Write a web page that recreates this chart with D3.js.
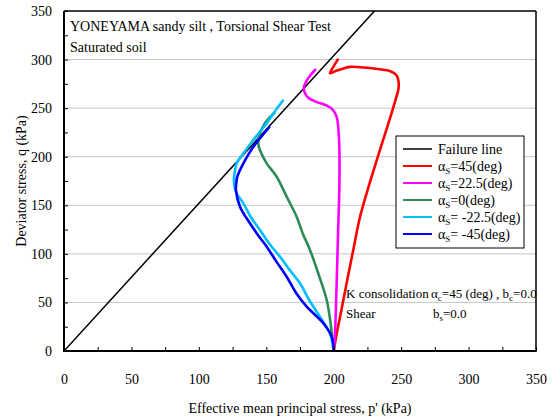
<!DOCTYPE html>
<html>
<head>
<meta charset="utf-8">
<script src="https://cdn.jsdelivr.net/npm/d3@7"></script>
<style>
  html, body { margin: 0; padding: 0; background: #fff; }
  svg, svg text { font-family: "Liberation Serif", "Times New Roman", serif; }
</style>
</head>
<body>
<svg id="chart" width="557" height="419"></svg>
<script>
// Stress paths p' (kPa) / q (kPa) for each shear direction
const seriesNames = ["45", "22.5", "0", "-22.5", "-45"];
const seriesColors = ["#ff0000", "#ff00ff", "#2e8b57", "#00bfff", "#0000ff"];

const pathA45 = [[200,0],[202.5,20],[204.7,35],[209.6,70],[214.5,104],[219.5,138],[226.5,172],[234.3,207],[240.5,234],[245.5,257],[248,270],[248,278],[246.5,284],[242,288],[236.8,289.5],[225,291.5],[212,292.5],[205.5,290],[201,288],[197.2,286],[199.5,292],[203,300]];
const pathA22 = [[200,0],[201,20],[202.2,70],[203.2,120],[204.2,170],[204.2,207],[203.5,228],[202.2,241],[199.5,248],[195,252.5],[187,256.5],[181,261],[178.5,266],[178,272],[179.5,277],[181.2,281],[184,286],[186.3,289.5]];
const pathA0 = [[200,0],[199,12],[197.7,28.5],[194.8,52.5],[189,78],[182.4,104],[177,121],[172.5,138.3],[165.1,158.9],[157.7,179.4],[150.3,193.2],[145.3,206.9],[144,214],[144.5,220],[145.3,224],[149,234.4],[152.8,241],[156,245]];
const pathAm22 = [[200,0],[197.2,18],[189.8,35.3],[182,52],[175,69.7],[167,84],[160.2,97],[152,111],[145.3,124.6],[138.5,138],[133,152],[128,162.3],[126.1,172],[126.1,179.4],[127,187],[128,193.2],[133,203.4],[140.4,217.2],[150.3,234.4],[156,246],[162.2,257.7]];
const pathAm45 = [[200,0],[198.5,14.8],[192.3,28.5],[180,45.6],[172,60],[165.1,76.5],[157.5,92],[150.3,107.4],[143.5,120],[137.9,131.5],[130.5,148.6],[127.5,165.7],[127.8,173],[128.5,179.4],[133,193.2],[140.4,210.3],[146,220],[152.2,230.3]];
const stressPaths = [pathA45, pathA22, pathA0, pathAm22, pathAm45];

// Failure line q = M p'
const failureSlope = 1.52;
const failureP = [0, 350 / failureSlope];

const xTicks = [0, 25, 50, 75, 100, 125, 150, 175, 200, 225, 250, 275, 300, 325, 350];
const yTicks = [0, 25, 50, 75, 100, 125, 150, 175, 200, 225, 250, 275, 300, 325, 350];
const gridValues = [50, 100, 150, 200, 250, 300];

const svg = d3.select("#chart");
const L = 64, T = 11, W = 472, H = 340;
const x = d3.scaleLinear().domain([0, 350]).range([L, L + W]);
const y = d3.scaleLinear().domain([0, 350]).range([T + H, T]);

// horizontal grid
svg.append("g").selectAll("line").data(gridValues).join("line")
  .attr("x1", L).attr("x2", L + W)
  .attr("y1", d => y(d)).attr("y2", d => y(d))
  .attr("stroke", "#c6c6c6").attr("stroke-width", 1);

const defs = svg.append("defs");
defs.append("clipPath").attr("id", "plot-clip")
  .append("rect").attr("x", L).attr("y", T).attr("width", W).attr("height", H);

const plot = svg.append("g").attr("clip-path", "url(#plot-clip)");

// failure line
plot.append("line")
  .attr("x1", x(failureP[0])).attr("y1", y(0))
  .attr("x2", x(failureP[1])).attr("y2", y(failureP[1] * failureSlope))
  .attr("stroke", "#000").attr("stroke-width", 1.5);

const line = d3.line().x(d => x(d[0])).y(d => y(d[1])).curve(d3.curveCatmullRom.alpha(0.5));
stressPaths.forEach((pts, i) => {
  plot.append("path").attr("d", line(pts))
    .attr("fill", "none").attr("stroke", seriesColors[i])
    .attr("stroke-width", 2.6).attr("stroke-linejoin", "round").attr("stroke-linecap", "round");
});

// axes with inward ticks
const xAxis = d3.axisBottom(x).tickValues(xTicks).tickSize(-4).tickPadding(23)
  .tickFormat(d => d % 50 === 0 ? d : "");
const gx = svg.append("g").attr("transform", `translate(0,${T + H})`).call(xAxis);
const yAxis = d3.axisLeft(y).tickValues(yTicks).tickSize(-4).tickPadding(12)
  .tickFormat(d => d % 50 === 0 ? d : "");
const gy = svg.append("g").attr("transform", `translate(${L},0)`).call(yAxis);
[gx, gy].forEach(g => {
  g.attr("font-family", null);
  g.select(".domain").remove();
  g.selectAll(".tick line").attr("stroke", "#000").attr("stroke-width", 1);
  g.selectAll(".tick text").attr("font-size", 14).attr("fill", "#000");
});

// frame
svg.append("line").attr("x1", L).attr("x2", L + W).attr("y1", T).attr("y2", T).attr("stroke", "#000").attr("stroke-width", 1.5);
svg.append("line").attr("x1", L + W).attr("x2", L + W).attr("y1", T).attr("y2", T + H).attr("stroke", "#000").attr("stroke-width", 1.5);
svg.append("line").attr("x1", L).attr("x2", L).attr("y1", T).attr("y2", T + H + 1).attr("stroke", "#000").attr("stroke-width", 2);
svg.append("line").attr("x1", L - 1).attr("x2", L + W + 0.75).attr("y1", T + H).attr("y2", T + H).attr("stroke", "#000").attr("stroke-width", 2);

// axis titles
svg.append("text").attr("x", L + W / 2).attr("y", 413).attr("text-anchor", "middle")
  .attr("font-size", 14).text("Effective mean principal stress, p' (kPa)");
svg.append("text").attr("transform", `translate(26,${T + H / 2}) rotate(-90)`)
  .attr("text-anchor", "middle").attr("font-size", 14).text("Deviator stress, q (kPa)");

// title block
svg.append("text").attr("x", 70).attr("y", 31).attr("font-size", 14)
  .text("YONEYAMA sandy silt , Torsional Shear Test");
svg.append("text").attr("x", 70).attr("y", 52).attr("font-size", 14).text("Saturated soil");

// test conditions
svg.append("text").attr("x", 346).attr("y", 298).attr("font-size", 13).text("K consolidation");
const c1b = svg.append("text").attr("x", 431).attr("y", 298).attr("font-size", 13);
c1b.append("tspan").text("α");
c1b.append("tspan").attr("font-size", 9).attr("dy", 3).text("c");
c1b.append("tspan").attr("dy", -3).text("=45 (deg) , b");
c1b.append("tspan").attr("font-size", 9).attr("dy", 3).text("c");
c1b.append("tspan").attr("dy", -3).text("=0.0");
svg.append("text").attr("x", 346).attr("y", 318).attr("font-size", 13).text("Shear");
const c2b = svg.append("text").attr("x", 433).attr("y", 318).attr("font-size", 13);
c2b.append("tspan").text("b");
c2b.append("tspan").attr("font-size", 9).attr("dy", 3).text("s");
c2b.append("tspan").attr("dy", -3).text("=0.0");

// legend
const lg = svg.append("g");
lg.append("rect").attr("x", 396).attr("y", 136).attr("width", 128).attr("height", 112)
  .attr("fill", "#fff").attr("stroke", "#000").attr("stroke-width", 1);
const legendRows = [{label: null, color: "#000"}].concat(seriesNames.map((n, i) => ({label: n, color: seriesColors[i]})));
legendRows.forEach((r, i) => {
  const yy = 149 + i * 17;
  lg.append("line").attr("x1", 403).attr("x2", 432).attr("y1", yy).attr("y2", yy)
    .attr("stroke", r.color).attr("stroke-width", r.label === null ? 1.5 : 2);
  const t = lg.append("text").attr("x", 438).attr("y", yy + 5).attr("font-size", 14);
  if (r.label === null) {
    t.text("Failure line");
  } else {
    t.append("tspan").text("α");
    t.append("tspan").attr("font-size", 9).attr("dy", 3).text("S");
    const v = r.label.startsWith("-") ? " " + r.label : r.label;
    t.append("tspan").attr("dy", -3).text("=" + v + "(deg)");
  }
});
</script>
</body>
</html>
